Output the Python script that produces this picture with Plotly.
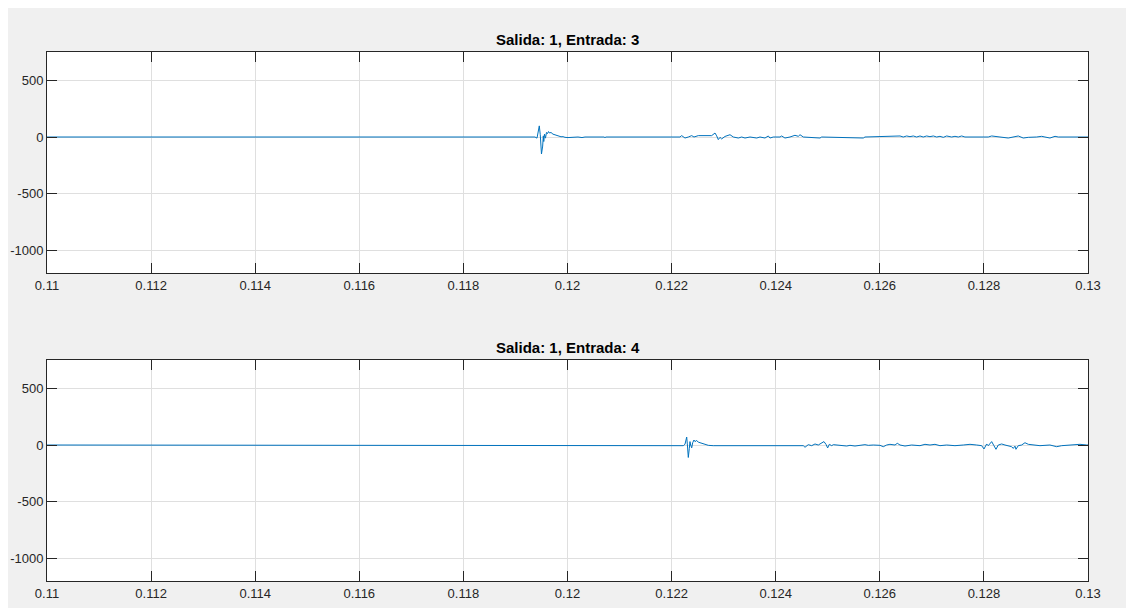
import plotly.graph_objects as go
from plotly.subplots import make_subplots

# ---------------- data ----------------
t_in3 = [0.1100, 0.119279, 0.119318, 0.119375, 0.119414, 0.119458, 0.119477, 0.119500,
         0.119523, 0.119535, 0.119544, 0.119558, 0.119577, 0.119596, 0.119615, 0.119635,
         0.119654, 0.119683, 0.119721, 0.119760, 0.119798, 0.119837, 0.119875, 0.119914,
         0.119952, 0.120010, 0.120086, 0.120163, 0.120202, 0.120278, 0.120336, 0.120701,
         0.120720, 0.120740, 0.122161, 0.122194, 0.122257, 0.122321, 0.122386, 0.122430,
         0.122513, 0.122770, 0.122834, 0.122866, 0.122897, 0.122930, 0.122962, 0.123026,
         0.123122, 0.123186, 0.123282, 0.123346, 0.123410, 0.123506, 0.123635, 0.123698,
         0.123794, 0.123858, 0.123890, 0.123954, 0.124082, 0.124115, 0.124178, 0.124274,
         0.124370, 0.124434, 0.124467, 0.124530, 0.124851, 0.124883, 0.125683, 0.125715,
         0.126036, 0.126067, 0.126388, 0.126451, 0.126516, 0.126580, 0.126643, 0.126708,
         0.126772, 0.126835, 0.126900, 0.126964, 0.127028, 0.127093, 0.127156, 0.127220,
         0.127285, 0.127381, 0.127444, 0.127508, 0.127573, 0.127636, 0.128084, 0.128149,
         0.128245, 0.128309, 0.128468, 0.128564, 0.128660, 0.128756, 0.128853, 0.129014,
         0.129110, 0.129173, 0.129269, 0.129366, 0.129429, 0.1300]
v_in3 = [0, 0, 5, 0, -10, 98, 20, -150,
         -80, 10, -40, 25, -10, 40, 30, 48,
         35, 40, 25, 20, 10, 8, 2, 3,
         -3, -5, -3, -5, 0, -5, 0, 0,
         -5, 0, 0, 12, -9, 0, 12, 0,
         12, 12, 35, 10, -23, -3, -17, 5,
         20, 0, -9, 0, -9, 0, -9, 0,
         -9, 9, -9, 0, 0, 9, -9, 0,
         15, 6, 20, 0, -9, 0, -9, 0,
         6, 0, 9, 0, 9, 3, 9, 0,
         9, 0, 9, 3, 9, 0, 6, -3,
         9, 0, 6, 0, 9, 0, 0, 9,
         6, 0, -9, 0, 9, -9, -3, 0,
         6, 0, -9, 6, 0, 0]

t_in4 = [0.1100, 0.122065, 0.122194, 0.122225, 0.122257, 0.122290, 0.122302, 0.122321,
         0.122340, 0.122353, 0.122366, 0.122386, 0.122405, 0.122430, 0.122449, 0.122482,
         0.122513, 0.122578, 0.122642, 0.122705, 0.122801, 0.122962, 0.123026, 0.123122,
         0.123154, 0.124178, 0.124499, 0.124530, 0.124563, 0.124595, 0.124626, 0.124691,
         0.124755, 0.124818, 0.124883, 0.124927, 0.124966, 0.124998, 0.125030, 0.125076,
         0.125107, 0.125204, 0.125300, 0.125364, 0.125427, 0.125523, 0.125620, 0.125715,
         0.125779, 0.125875, 0.126004, 0.126067, 0.126132, 0.126195, 0.126292, 0.126336,
         0.126388, 0.126484, 0.126612, 0.126772, 0.126868, 0.126964, 0.127060, 0.127156,
         0.127285, 0.127444, 0.127604, 0.127733, 0.127861, 0.127957, 0.128002, 0.128034,
         0.128053, 0.128084, 0.128149, 0.128193, 0.128232, 0.128276, 0.128341, 0.128405,
         0.128468, 0.128533, 0.128564, 0.128597, 0.128616, 0.128660, 0.128725, 0.128789,
         0.128853, 0.128949, 0.129077, 0.129269, 0.129398, 0.129494, 0.129654, 0.129846,
         0.129974, 0.1300]
v_in4 = [0, 0, 0, -6, 6, 70, 10, -110,
         -30, 30, 0, -25, 20, 44, 30, 40,
         25, 15, 5, -3, -6, -6, -3, -6,
         0, 0, 0, -6, -20, -6, 3, -6,
         9, 0, 15, 30, 6, -26, 6, -6,
         3, 0, -3, -9, -3, -9, -3, 3,
         -3, 0, -3, -15, 0, 6, 0, 15,
         0, -9, 0, -6, 6, 0, 6, -6,
         0, -6, 0, 6, 0, -6, -35, -5,
         9, -6, 30, -6, -38, 0, 9, 0,
         -6, -15, -30, -10, -38, -6, 0, 20,
         6, 0, -6, 0, -15, -6, 0, 6,
         0, 0]

titles = ["Salida: 1, Entrada: 3", "Salida: 1, Entrada: 4"]
x_ticks = [0.11, 0.112, 0.114, 0.116, 0.118, 0.12, 0.122, 0.124, 0.126, 0.128, 0.13]
x_tick_labels = ["0.11", "0.112", "0.114", "0.116", "0.118", "0.12", "0.122",
                 "0.124", "0.126", "0.128", "0.13"]
y_ticks = [-1000, -500, 0, 500]
y_tick_labels = ["-1000", "-500", "0", "500"]
x_range = [0.11, 0.13]
y_range = [-1200, 750]

# ---------------- figure ----------------
# page has an 8px body margin, so the figure itself is 1126 x 600
W, H = 1126, 600
ML, MR, MT, MB = 39, 46, 44, 27
plot_h = H - MT - MB
ax1_bottom = 265   # in figure pixels
ax2_top = 352

line_col = "#0072BD"
axis_col = "#262626"
grid_col = "#dfdfdf"
font_family = "Liberation Sans, Arial, sans-serif"

fig = make_subplots(rows=2, cols=1, vertical_spacing=(ax2_top - ax1_bottom) / plot_h)

fig.add_trace(go.Scatter(x=t_in3, y=v_in3, mode="lines",
                         line=dict(color=line_col, width=1), showlegend=False,
                         hoverinfo="x+y"), row=1, col=1)
fig.add_trace(go.Scatter(x=t_in4, y=v_in4, mode="lines",
                         line=dict(color=line_col, width=1), showlegend=False,
                         hoverinfo="x+y"), row=2, col=1)

axis_common = dict(showline=True, linecolor=axis_col, linewidth=1, mirror="ticks",
                   ticks="inside", ticklen=10, tickwidth=1, tickcolor=axis_col,
                   showgrid=True, gridcolor=grid_col, gridwidth=1, zeroline=False,
                   automargin=False,
                   tickfont=dict(family=font_family, size=13, color=axis_col))

for r in (1, 2):
    fig.update_xaxes(range=x_range, tickvals=x_ticks, ticktext=x_tick_labels,
                     **axis_common, row=r, col=1)
    fig.update_yaxes(range=y_range, tickvals=y_ticks, ticktext=y_tick_labels,
                     **axis_common, row=r, col=1)

fig.update_layout(
    width=W, height=H,
    margin=dict(l=ML, r=MR, t=MT, b=MB, autoexpand=False),
    paper_bgcolor="#f0f0f0",
    plot_bgcolor="white",
    showlegend=False,
)

# subplot titles
top_y = [1.0, (H - MB - ax2_top) / plot_h]
for ttl, yy in zip(titles, top_y):
    fig.add_annotation(text="<b>" + ttl + "</b>", xref="paper", yref="paper",
                       x=0.5, y=yy, xanchor="center", yanchor="bottom", yshift=2,
                       showarrow=False,
                       font=dict(family=font_family, size=15, color="#000000"))

fig.write_html("out.html")
